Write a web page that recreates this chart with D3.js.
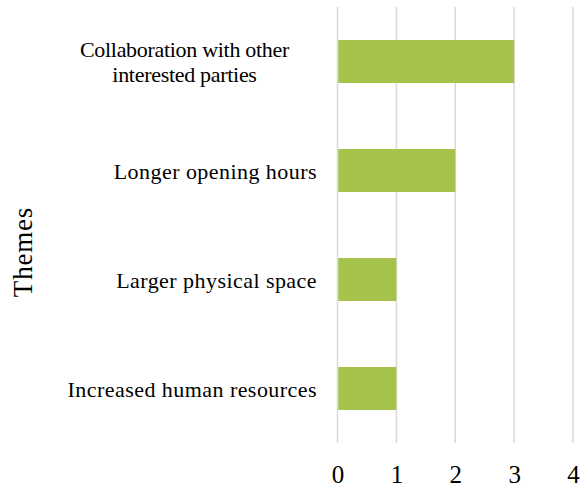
<!DOCTYPE html>
<html>
<head>
<meta charset="utf-8">
<script src="https://cdn.jsdelivr.net/npm/d3@7"></script>
<style>
  html, body { margin: 0; padding: 0; background: #fff; }
  svg { display: block; }
  text { font-family: "Liberation Serif", "DejaVu Serif", serif; fill: #000; }
</style>
</head>
<body>
<svg id="chart" width="582" height="488"></svg>
<script>
// Data
const categories = [
  ["Collaboration with other", "interested parties"],
  ["Longer opening hours"],
  ["Larger physical space"],
  ["Increased human resources"]
];
const values = [3, 2, 1, 1];
const xTicks = [0, 1, 2, 3, 4];
const axisTitle = "Themes";

const svg = d3.select("#chart");
const keys = categories.map(c => c.join(" "));

const x = d3.scaleLinear().domain([0, 4]).range([337.5, 573]);
const y = d3.scaleBand().domain(keys).range([7, 443]).paddingInner(0.606).paddingOuter(0.303);

// Gridlines
svg.append("g").selectAll("line").data(xTicks).join("line")
  .attr("x1", d => x(d)).attr("x2", d => x(d))
  .attr("y1", 7).attr("y2", 443)
  .attr("stroke", "#d9d9d9").attr("stroke-width", 1.5);

// Bars
svg.append("g").selectAll("rect").data(values).join("rect")
  .attr("x", x(0) + 0.75)
  .attr("y", (d, i) => y(keys[i]))
  .attr("width", d => x(d) - x(0) - 0.75)
  .attr("height", y.bandwidth())
  .attr("fill", "#a5c34b");

// X tick labels via axis
const xAxis = d3.axisBottom(x).tickValues(xTicks).tickFormat(d3.format("d")).tickSize(0).tickPadding(0);
const gx = svg.append("g").attr("transform", "translate(0,463)").call(xAxis);
gx.select(".domain").remove();
gx.selectAll("text").attr("font-size", 25).attr("fill", "#000")
  .attr("font-family", "Liberation Serif, DejaVu Serif, serif")
  .attr("dy", null).attr("y", 20);

// Category labels
const lblG = svg.append("g");
categories.forEach((lines, i) => {
  const cy = y(keys[i]) + y.bandwidth() / 2;
  const lh = 25;
  const multi = lines.length > 1;
  const t = lblG.append("text")
    .attr("font-size", 22)
    .attr("letter-spacing", multi ? -0.3 : 0.45)
    .attr("text-anchor", multi ? "middle" : "end");
  lines.forEach((ln, j) => {
    t.append("tspan")
      .attr("x", multi ? 184.5 : 317)
      .attr("y", cy + 8 + (j - (lines.length - 1) / 2) * lh)
      .text(ln);
  });
});

// Axis title
svg.append("text")
  .attr("transform", "translate(32,252) rotate(-90)")
  .attr("text-anchor", "middle")
  .attr("font-size", 27)
  .attr("letter-spacing", 0.8)
  .text(axisTitle);
</script>
</body>
</html>
